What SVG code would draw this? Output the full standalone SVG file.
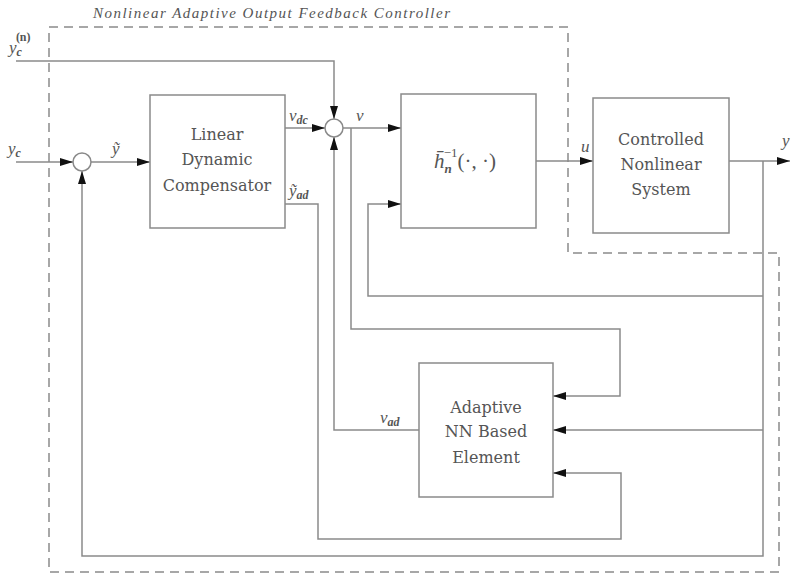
<svg xmlns="http://www.w3.org/2000/svg" width="791" height="577" viewBox="0 0 791 577">
<defs>
<marker id="ah" markerUnits="userSpaceOnUse" markerWidth="14" markerHeight="10" refX="13" refY="4" orient="auto">
<path d="M0,0 L13,4 L0,8 Z" fill="#111"/>
</marker>
<style>
.blk{fill:#fff;stroke:#8a8a8a;stroke-width:1.5}
.ln{fill:none;stroke:#8a8a8a;stroke-width:1.5}
.arr{fill:none;stroke:#8a8a8a;stroke-width:1.5;marker-end:url(#ah)}
.dash{fill:none;stroke:#8a8a8a;stroke-width:1.5;stroke-dasharray:9,6}
.bt{font-family:"DejaVu Serif","Liberation Serif",serif;font-size:16px;fill:#555;text-anchor:middle}
.m{font-family:"Liberation Serif","DejaVu Serif",serif;font-style:italic;font-size:17px;fill:#555}
.s{font-size:12px;font-weight:bold}
.t{font-family:"Liberation Serif","DejaVu Serif",serif;font-style:italic;font-size:15px;fill:#555}
</style>
</defs>
<rect width="791" height="577" fill="#fff"/>
<g id="boundary">
<path class="dash" d="M49,27 H568 V253 H779 V572 H49 Z"/>
<text class="t" x="93" y="18" textLength="357" lengthAdjust="spacing">Nonlinear Adaptive Output Feedback Controller</text>
</g>
<g id="connectors">
<path class="arr" d="M16,61 H334 V119"/>
<path class="arr" d="M16,162 H73"/>
<path class="arr" d="M91,162 H150"/>
<path class="arr" d="M285,128 H325"/>
<path class="arr" d="M343,128 H401"/>
<path class="arr" d="M536,161 H593"/>
<path class="arr" d="M729,161 H790"/>
<path class="arr" d="M763,161 V556 H82 V171"/>
<path class="arr" d="M763,296 H368 V204 H401"/>
<path class="arr" d="M763,430 H553"/>
<path class="arr" d="M351,128 V329 H620 V396 H553"/>
<path class="arr" d="M285,204 H318 V539 H621 V473 H553"/>
<path class="arr" d="M419,430 H334 V137"/>
</g>
<g id="sum1"><circle class="blk" cx="82" cy="162" r="9"/></g>
<g id="sum2"><circle class="blk" cx="334" cy="128" r="9"/></g>
<g id="ldc">
<rect class="blk" x="150" y="95" width="135" height="133"/>
<text class="bt" x="217" y="140">Linear</text>
<text class="bt" x="217" y="165">Dynamic</text>
<text class="bt" x="217" y="191">Compensator</text>
</g>
<g id="hinv">
<rect class="blk" x="401" y="94" width="135" height="134"/>
<text class="m" x="434" y="168" style="font-size:21px">h̄<tspan class="s" style="font-size:13px" dy="5">n</tspan><tspan style="font-size:13px;font-style:normal" dx="-8" dy="-16">−1</tspan><tspan style="font-style:normal" dy="11">(·, ·)</tspan></text>
</g>
<g id="plant">
<rect class="blk" x="593" y="98" width="136" height="135"/>
<text class="bt" x="661" y="145">Controlled</text>
<text class="bt" x="661" y="170">Nonlinear</text>
<text class="bt" x="661" y="195">System</text>
</g>
<g id="nn">
<rect class="blk" x="419" y="363" width="134" height="134"/>
<text class="bt" x="486" y="413">Adaptive</text>
<text class="bt" x="486" y="437">NN Based</text>
<text class="bt" x="486" y="463">Element</text>
</g>
<g id="labels">
<text class="m" x="9" y="53">y<tspan class="s" dy="3">c</tspan><tspan class="s" style="font-style:normal" dx="-6" dy="-15">(n)</tspan></text>
<text class="m" x="8" y="154">y<tspan class="s" dy="3">c</tspan></text>
<text class="m" x="112" y="154">ỹ</text>
<text class="m" x="289" y="121">ν<tspan class="s" dy="3">dc</tspan></text>
<text class="m" x="356" y="121">ν</text>
<text class="m" x="289" y="196">ỹ<tspan class="s" dy="3">ad</tspan></text>
<text class="m" x="581" y="152">u</text>
<text class="m" x="782" y="146">y</text>
<text class="m" x="380" y="423">ν<tspan class="s" dy="3">ad</tspan></text>
</g>
</svg>
